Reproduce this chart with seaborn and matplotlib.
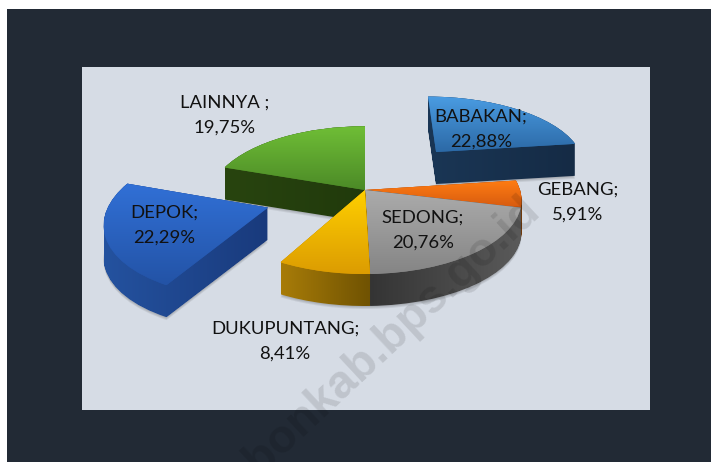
import numpy as np
import matplotlib
matplotlib.use('Agg')
import matplotlib.pyplot as plt
import matplotlib.transforms as mtransforms
from matplotlib.colors import LinearSegmentedColormap
from matplotlib.patches import Rectangle, PathPatch
from matplotlib.path import Path
import seaborn as sns

# Data
names = ['BABAKAN', 'GEBANG', 'SEDONG', 'DUKUPUNTANG', 'DEPOK', 'LAINNYA ']
values = [22.88, 5.91, 20.76, 8.41, 22.29, 19.75]
explode = [0.75, 0, 0, 0, 0.65, 0]

# Colours: top face (far, near), side (left, right)
top_colors = [('#4a9ce2', '#2c69a6'), ('#ff7d12', '#d65a10'), ('#ababab', '#858585'),
              ('#ffd000', '#dc9c02'), ('#3170d6', '#2353a6'), ('#6fbe36', '#4c8a27')]
side_colors = [('#1a3655', '#152b45'), ('#8a4a10', '#6e3a0c'), ('#333333', '#5a5a5a'),
               ('#a87c08', '#6f5202'), ('#24529f', '#193a7c'), ('#28440f', '#213a0c')]
# Painter's order for the slices, back to front
draw_order = [0, 5, 1, 4, 2, 3]

# Label centres in pixels
label_pos = [(481, 129), (578, 202), (423, 230), (285, 341), (164, 225), (225, 115)]

# Pie geometry in pixels
CX, CY = 365, 190
RX, RY = 155, 72.5
PERSP = 0.137
DEPTH = 32


class Tilt(mtransforms.Transform):
    """Lays the unit pie on a table, the far side shrinks a bit."""
    input_dims = 2
    output_dims = 2

    def __init__(self, drop=0):
        super().__init__()
        self.drop = drop

    def transform_non_affine(self, xy):
        xy = np.asarray(xy)
        w = 1 / (1 + PERSP * xy[:, 1])
        return np.column_stack([CX + RX * xy[:, 0] * w,
                                CY - RY * xy[:, 1] * w + self.drop])


def fill_gradient(ax, path, colors, vertical, zorder):
    # Image clipped to the path, the colours run over its bounding box
    box = path.get_extents()
    ramp = np.linspace(0, 1, 128)
    ramp = ramp.reshape(-1, 1) if vertical else ramp.reshape(1, -1)
    cmap = LinearSegmentedColormap.from_list('face', colors)
    im = ax.imshow(ramp, cmap=cmap, aspect='auto', zorder=zorder, origin='upper',
                   extent=[box.x0, box.x1, box.y1, box.y0])
    im.set_clip_path(path, transform=ax.transData)


sns.set_theme(style='white')
plt.rcParams['font.family'] = ['Lato', 'DejaVu Sans']

fig = plt.figure(figsize=(7.15, 4.62), dpi=100)
fig.patch.set_facecolor('white')
ax = fig.add_axes([0, 0, 1, 1])

wedges, _ = ax.pie(values, explode=explode, startangle=90, counterclock=False,
                   colors=[c[1] for c in top_colors],
                   wedgeprops={'linewidth': 0, 'edgecolor': 'none'})

ax.add_patch(Rectangle((7, 9), 704, 460, facecolor='#222a35', edgecolor='none', zorder=0))
ax.add_patch(Rectangle((82, 67), 568, 343, facecolor='#d6dce5', edgecolor='none', zorder=0.5))

for rank, i in enumerate(draw_order):
    base = wedges[i].get_path()
    z = 2 + rank
    # Side: the same wedge pushed down pixel by pixel
    layers = [Tilt(d).transform_path(base) for d in range(DEPTH + 1)]
    side = Path.make_compound_path(*layers)
    # Soft shadow under the slice
    for extra in (1, 2, 3):
        ax.add_patch(PathPatch(Tilt(DEPTH + extra).transform_path(base), facecolor='black',
                               edgecolor='none', alpha=0.07, zorder=z - 0.1))
    fill_gradient(ax, side, side_colors[i], False, z)
    # Top face
    top = Tilt().transform_path(base)
    wedges[i].set_transform(Tilt() + ax.transData)
    wedges[i].set_zorder(z + 0.1)
    fill_gradient(ax, top, top_colors[i], True, z + 0.2)

for name, value, (x, y) in zip(names, values, label_pos):
    text = f'{name};\n{value:.2f}%'.replace('.', ',')
    ax.text(x, y, text, ha='center', va='center', fontsize=13.3, color='#111111',
            linespacing=1.72, zorder=20)

ax.text(533, 205, 'cirebonkab.bps.go.id', rotation=43, rotation_mode='anchor',
        ha='right', va='center', fontsize=33.5, fontweight='bold',
        family=['Liberation Sans'], color='black', alpha=0.11, zorder=15)

ax.set_aspect('auto')
ax.set_xlim(0, 715)
ax.set_ylim(462, 0)
ax.set_axis_off()

fig.savefig('out.png', dpi=100)
